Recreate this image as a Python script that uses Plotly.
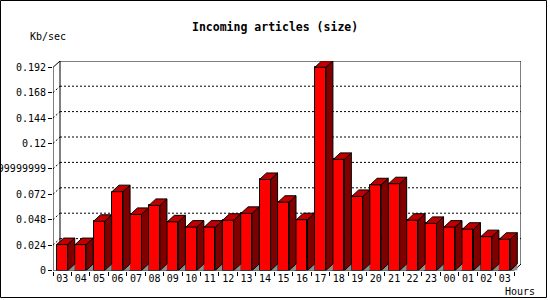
import plotly.graph_objects as go

# ---- data ----
hours = ["03", "04", "05", "06", "07", "08", "09", "10", "11", "12", "13", "14",
         "15", "16", "17", "18", "19", "20", "21", "22", "23", "00", "01", "02", "03"]
kb_per_sec = [0.0245, 0.0245, 0.0465, 0.0745, 0.053, 0.0615, 0.046, 0.041, 0.041,
              0.0475, 0.054, 0.086, 0.0645, 0.048, 0.192, 0.105, 0.070, 0.081,
              0.082, 0.0475, 0.0445, 0.041, 0.039, 0.032, 0.0295]
y_tickvals = [0, 0.024, 0.048, 0.072, 0.096, 0.12, 0.144, 0.168, 0.192]
y_ticktext = ["0", "0.024", "0.048", "0.072", "0.0959999999999999", "0.12", "0.144", "0.168", "0.192"]
title_text = "Incoming articles (size)"
y_unit = "Kb/sec"
x_unit = "Hours"

# ---- geometry (pixels) ----
W, H = 550, 300
X_FRONT_L, X_FRONT_R = 53, 514
DEPTH_X, DEPTH_Y = 7, 6.5
Y_ZERO, Y_TOP = 270.5, 61
Y_MAXTICK_PX = 67.3

n = len(hours)
px_per_x = (X_FRONT_R - X_FRONT_L) / n
px_per_y = (Y_ZERO - Y_MAXTICK_PX) / y_tickvals[-1]
dx = DEPTH_X / px_per_x
dy = DEPTH_Y / px_per_y
x_lo = -0.5
x_hi = n - 0.5
x_range = [x_lo, x_hi + dx]
y_top = (Y_ZERO - Y_TOP) / px_per_y
y_range = [0, y_top]
half = 0.3

idx = list(range(n))

floor_x, floor_y = [], []
side_x, side_y = [], []
top_x, top_y = [], []
for i, v in zip(idx, kb_per_sec):
    r = i + half
    l = i - half
    floor_x += [r, r + dx, r + dx, r, None]
    floor_y += [0, 0, dy, 0, None]
    side_x += [r, r + dx, r + dx, r, r, None]
    side_y += [0, dy, v + dy, v, 0, None]
    top_x += [l, r, r + dx, l + dx, l, None]
    top_y += [v, v, v + dy, v + dy, v, None]

fig = go.Figure()
fig.add_trace(go.Scatter(x=floor_x, y=floor_y, mode="lines", fill="toself",
                         fillcolor="#909090", line=dict(width=0, color="#909090"),
                         hoverinfo="skip", showlegend=False))
fig.add_trace(go.Bar(x=idx, y=kb_per_sec, width=2 * half,
                     marker=dict(color="#FF0000", line=dict(color="black", width=1)),
                     hoverinfo="skip", showlegend=False))
fig.add_trace(go.Scatter(x=side_x, y=side_y, mode="lines", fill="toself",
                         fillcolor="#800000", line=dict(width=1, color="black"),
                         hoverinfo="skip", showlegend=False))
fig.add_trace(go.Scatter(x=top_x, y=top_y, mode="lines", fill="toself",
                         fillcolor="#C00000", line=dict(width=1, color="black"),
                         hoverinfo="skip", showlegend=False))

shapes = []
dot = dict(color="black", width=1, dash="2px,2px")
for v in y_tickvals[1:-1]:
    shapes.append(dict(type="line", xref="x", yref="y", x0=x_lo + dx, x1=x_hi + dx,
                       y0=v + dy, y1=v + dy, line=dot, layer="below"))
    shapes.append(dict(type="line", xref="x", yref="y", x0=x_lo, x1=x_lo + dx,
                       y0=v, y1=v + dy, line=dot, layer="below"))
solid = dict(color="black", width=1)
# back wall frame
shapes.append(dict(type="path", xref="x", yref="y", layer="below", line=solid,
                   path=f"M {x_lo + dx},{dy} L {x_lo + dx},{y_top} L {x_hi + dx},{y_top} "
                        f"L {x_hi + dx},{dy} L {x_hi},0"))
shapes.append(dict(type="line", xref="x", yref="y", x0=x_lo, x1=x_lo + dx,
                   y0=y_tickvals[-1], y1=y_top, line=solid))
# front axes
shapes.append(dict(type="line", xref="x", yref="y", x0=x_lo, x1=x_lo,
                   y0=0, y1=y_tickvals[-1], line=solid))
shapes.append(dict(type="line", xref="x", yref="y", x0=x_lo, x1=x_hi,
                   y0=0, y1=0, line=solid))
# image border
shapes.append(dict(type="rect", xref="paper", yref="paper",
                   x0=0.5 / W, x1=546.5 / W, y0=1 - 297.5 / H, y1=1 - 0.5 / H,
                   line=solid))

tick_font = dict(family="DejaVu Sans Mono", size=10, color="black")

fig.update_layout(
    width=W, height=H, margin=dict(l=0, r=0, t=0, b=0, autoexpand=False),
    paper_bgcolor="white", plot_bgcolor="white",
    showlegend=False, bargap=0,
    shapes=shapes,
    xaxis=dict(domain=[X_FRONT_L / W, (X_FRONT_R + DEPTH_X) / W], range=x_range,
               tickvals=idx, ticktext=hours, ticks="", showgrid=False, automargin=False,
               zeroline=False, showline=False, tickfont=tick_font, fixedrange=True),
    xaxis2=dict(overlaying="x", anchor="y", side="bottom", range=x_range, automargin=False,
                domain=[X_FRONT_L / W, (X_FRONT_R + DEPTH_X) / W],
                tickvals=[i - 0.5 for i in range(n + 1)], ticks="outside", ticklen=4,
                tickcolor="black", showticklabels=False, showgrid=False,
                zeroline=False, showline=False),
    yaxis=dict(domain=[1 - Y_ZERO / H, 1 - Y_TOP / H], range=y_range, automargin=False,
               tickvals=y_tickvals, ticktext=y_ticktext, ticks="outside", ticklen=4,
               tickcolor="black", showgrid=False, zeroline=False, showline=False,
               tickfont=tick_font, fixedrange=True),
    annotations=[
        dict(text=f"<b>{title_text}</b>", xref="paper", yref="paper",
             x=274.5 / W, y=1 - 26.7 / H, showarrow=False, xanchor="center", yanchor="middle",
             font=dict(family="DejaVu Sans Mono", size=11.5, color="black")),
        dict(text=y_unit, xref="paper", yref="paper", x=47.5 / W, y=1 - 37 / H,
             showarrow=False, xanchor="center", yanchor="middle", font=tick_font),
        dict(text=x_unit, xref="paper", yref="paper", x=519.5 / W, y=1 - 291.5 / H,
             showarrow=False, xanchor="center", yanchor="middle", font=tick_font),
    ],
)
# dummy trace so xaxis2 is drawn
fig.add_trace(go.Scatter(x=[None], y=[None], xaxis="x2", yaxis="y", showlegend=False,
                         hoverinfo="skip"))

fig.write_html("out.html")
